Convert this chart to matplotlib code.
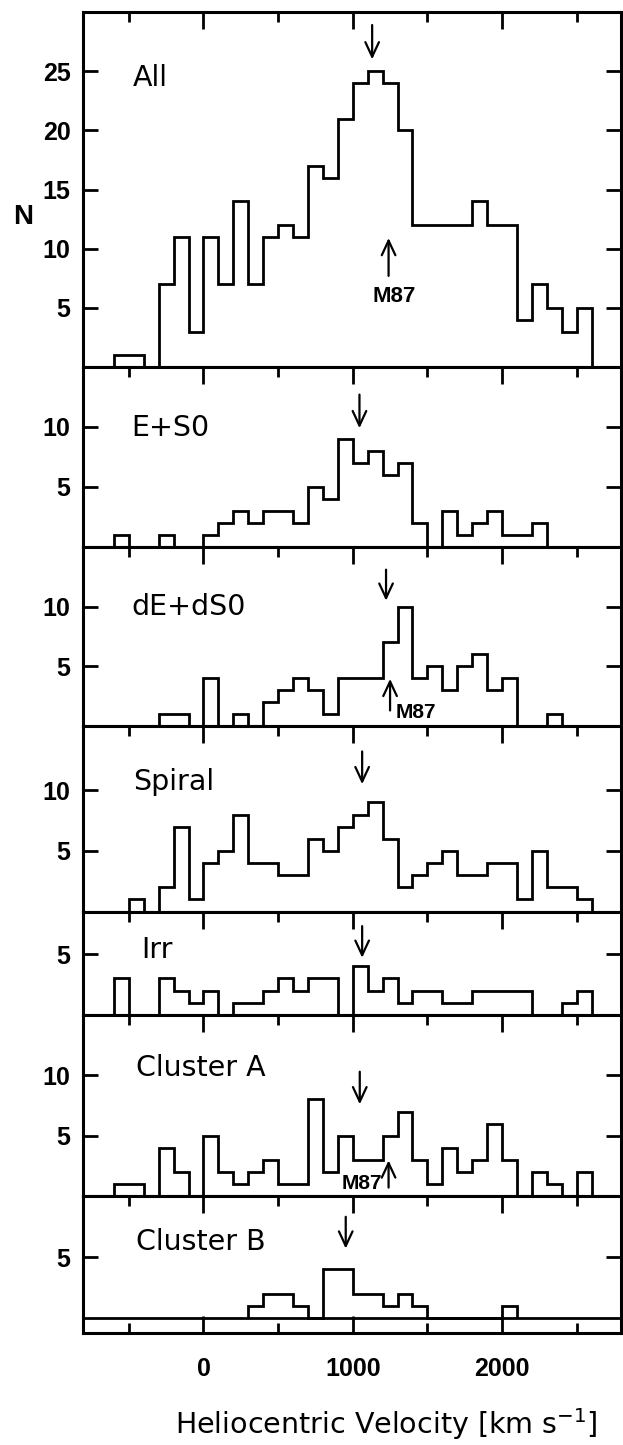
import numpy as np
import matplotlib
matplotlib.use("Agg")
import matplotlib.pyplot as plt
from matplotlib.ticker import FixedLocator

plt.rcParams["font.family"] = ["Liberation Sans", "DejaVu Sans"]
plt.rcParams["mathtext.fontset"] = "custom"
plt.rcParams["mathtext.rm"] = "DejaVu Sans"
plt.rcParams["mathtext.it"] = "DejaVu Sans:italic"
plt.rcParams["mathtext.bf"] = "DejaVu Sans:bold"

# ---------------------------------------------------------------- data
BIN_WIDTH = 100  # km/s

panel_names = ["All", "E+S0", "dE+dS0", "Spiral", "Irr", "Cluster A", "Cluster B"]

# first bin edge (km/s) and counts per 100 km/s bin for each sample
all_start = -600
all_counts = [1, 1, 0, 7, 11, 3, 11, 7, 14, 7, 11, 12, 11, 17, 16, 21, 24, 25,
              24, 20, 12, 12, 12, 12, 14, 12, 12, 4, 7, 5, 3, 5]

es0_start = -600
es0_counts = [1, 0, 0, 1, 0, 0, 1, 2, 3, 2, 3, 3, 2, 5, 4, 9, 7, 8, 6, 7, 2, 0,
              3, 1, 2, 3, 1, 1, 2]

des0_start = -300
des0_counts = [1, 1, 0, 4, 0, 1, 0, 2, 3, 4, 3, 1, 4, 4, 4, 7, 10, 4, 5, 3, 5, 6,
               3, 4, 0, 0, 1]

spiral_start = -500
spiral_counts = [1, 0, 2, 7, 1, 4, 5, 8, 4, 4, 3, 3, 6, 5, 7, 8, 9, 6, 2, 3, 4, 5,
                 3, 3, 4, 4, 1, 5, 2, 2, 1]

irr_start = -600
irr_counts = [3, 0, 0, 3, 2, 1, 2, 0, 1, 1, 2, 3, 2, 3, 3, 0, 4, 2, 3, 1, 2, 2, 1,
              1, 2, 2, 2, 2, 0, 0, 1, 2]

clA_start = -600
clA_counts = [1, 1, 0, 4, 2, 0, 5, 2, 1, 2, 3, 1, 1, 8, 2, 5, 3, 3, 5, 7, 3, 1, 4,
              2, 3, 6, 3, 0, 2, 1, 0, 2]

clB_start = 300
clB_counts = [1, 2, 2, 1, 0, 4, 4, 2, 2, 1, 2, 1, 0, 0, 0, 0, 0, 1]

# mean velocity of each sample (down arrows) and velocity of M87
mean_velocity = [1130, 1045, 1223, 1063, 1063, 1047, 953]
M87_VELOCITY = 1240

x_major = [0, 1000, 2000]
x_minor = [-500, 500, 1500, 2500]
x_ticklabels = ["0", "1000", "2000"]

starts = [all_start, es0_start, des0_start, spiral_start, irr_start, clA_start, clB_start]
counts = [all_counts, es0_counts, des0_counts, spiral_counts, irr_counts, clA_counts, clB_counts]
yticks = [[5, 10, 15, 20, 25], [5, 10], [5, 10], [5, 10], [5], [5, 10], [5]]

# ---------------------------------------------------------------- layout
W_PX, H_PX, DPI = 623, 1445, 100
fig = plt.figure(figsize=(W_PX / DPI, H_PX / DPI), dpi=DPI)
fig.patch.set_facecolor("white")

LEFT_PX, RIGHT_PX = 83, 621
tops = [12, 367, 547, 726, 911.5, 1015, 1196]
bots = [367, 547, 726, 911.5, 1015, 1196, 1333]
ylims = [(0, 30), (0, 15), (0, 15), (0, 15.3), (0, 8.5), (0, 15), (-1.2, 10)]
XLIM = (-807, 2797)

# panel label positions (left, baseline) in pixels
label_px = [(133, 86), (131, 436), (131, 615), (133, 790), (141, 958), (136, 1076), (136, 1250)]
# down-arrow (tail, tip) in data units
down_arrow_y = [(28.9, 26.0), (12.7, 9.9), (13.1, 10.5), (13.2, 10.5), (7.3, 4.7), (10.3, 7.6), (8.3, 5.7)]

LW = 2.0
BLACK = "black"


def px_to_axes(ax_idx, x_px, y_px):
    x = (x_px - LEFT_PX) / (RIGHT_PX - LEFT_PX)
    y = (bots[ax_idx] - y_px) / (bots[ax_idx] - tops[ax_idx])
    return x, y


def arrow(ax, x, y_tail, y_tip):
    ax.annotate("", xy=(x, y_tip), xytext=(x, y_tail),
                arrowprops=dict(arrowstyle="->,head_length=0.75,head_width=0.35",
                                lw=1.6, color=BLACK, shrinkA=0, shrinkB=0,
                                mutation_scale=14),
                annotation_clip=False)


axes = []
n = len(panel_names)
for i in range(n):
    last = i == n - 1
    ax = fig.add_axes([LEFT_PX / W_PX, 1 - bots[i] / H_PX,
                       (RIGHT_PX - LEFT_PX) / W_PX, (bots[i] - tops[i]) / H_PX])
    axes.append(ax)
    c = np.asarray(counts[i], dtype=float)
    edges = starts[i] + BIN_WIDTH * np.arange(len(c) + 1)
    ax.stairs(c, edges, baseline=0, fill=False, color=BLACK, lw=LW,
              joinstyle="miter")
    if last:
        ax.axhline(0, color=BLACK, lw=LW)

    ax.set_xlim(*XLIM)
    ax.set_ylim(*ylims[i])

    ax.xaxis.set_major_locator(FixedLocator(x_major))
    ax.xaxis.set_minor_locator(FixedLocator(x_minor))
    ax.tick_params(axis="x", which="both", direction="in", top=True,
                   bottom=last, labelbottom=last, labeltop=False, width=LW)
    ax.tick_params(axis="x", which="major", length=12, pad=17)
    ax.tick_params(axis="x", which="minor", length=7)
    if last:
        ax.set_xticks(x_major, labels=x_ticklabels, fontsize=18, fontweight="bold")
    ax.set_yticks(yticks[i], labels=[str(t) for t in yticks[i]],
                  fontsize=18, fontweight="bold")
    ax.yaxis.set_minor_locator(FixedLocator([]))
    ax.tick_params(axis="y", which="major", direction="in", left=True, right=True,
                   length=11, width=LW, pad=9)
    for sp in ax.spines.values():
        sp.set_linewidth(2.2)

    lx, ly = px_to_axes(i, *label_px[i])
    ax.text(lx, ly, panel_names[i], transform=ax.transAxes, fontsize=20.5,
            va="baseline", ha="left", family=["DejaVu Sans"])

    t0, t1 = down_arrow_y[i]
    arrow(ax, mean_velocity[i], t0, t1)

# M87 markers
arrow(axes[0], M87_VELOCITY, 7.7, 10.9)
axes[0].text(M87_VELOCITY + 40, 6.0, "M87", fontsize=16, fontweight="bold",
             ha="center", va="center")

arrow(axes[2], M87_VELOCITY + 10, 1.3, 3.95)
axes[2].text(M87_VELOCITY + 50, 1.1, "M87", fontsize=15, fontweight="bold",
             ha="left", va="center")

arrow(axes[5], M87_VELOCITY, 0.7, 2.95)
axes[5].text(M87_VELOCITY - 45, 1.0, "M87", fontsize=15, fontweight="bold",
             ha="right", va="center")

# axis titles
fig.text(23 / W_PX, 1 - 217 / H_PX, "N", fontsize=20, fontweight="bold",
         ha="center", va="center")
fig.text(386 / W_PX, 1 - 1424 / H_PX, r"Heliocentric Velocity [km s$^{-1}$]",
         fontsize=20.5, ha="center", va="center", family=["DejaVu Sans"])

fig.savefig("out.png", dpi=DPI, facecolor="white")
